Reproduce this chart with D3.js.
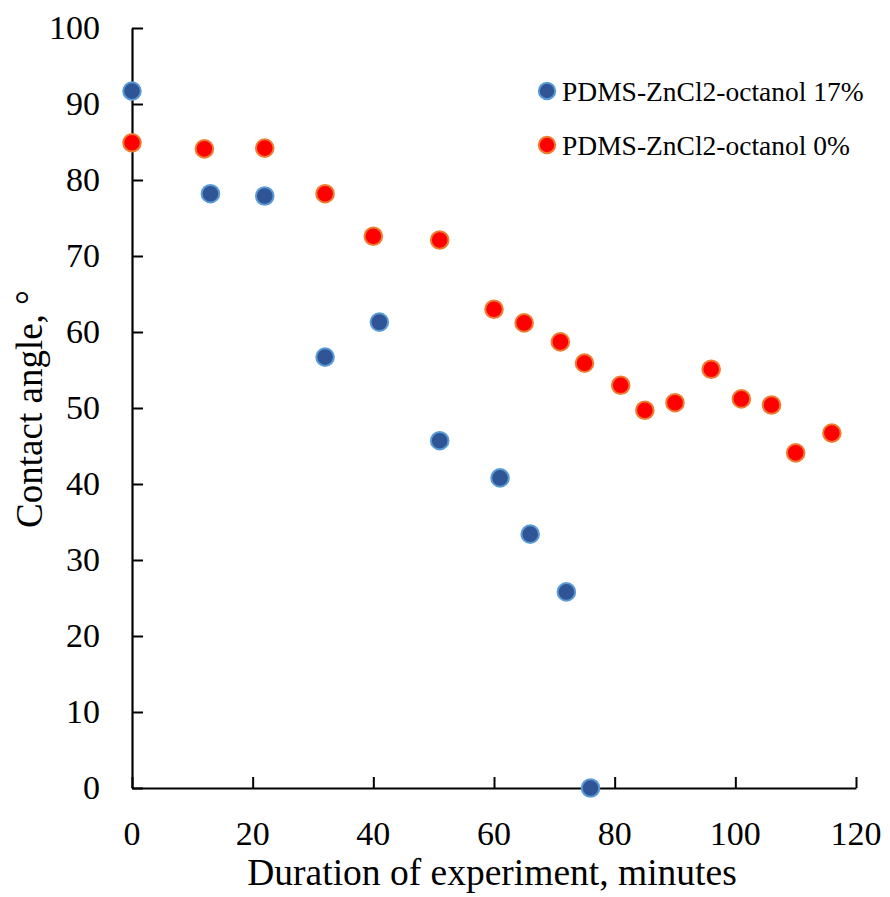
<!DOCTYPE html>
<html>
<head>
<meta charset="utf-8">
<script src="https://cdn.jsdelivr.net/npm/d3@7"></script>
<style>
  body { margin: 0; background: #fff; }
  text { font-family: "Liberation Serif", "Times New Roman", serif; fill: #000; }
</style>
</head>
<body>
<div id="chart"></div>
<script>
// series: PDMS-ZnCl2-octanol 17%
const minutes17 = [0, 13, 22, 32, 41, 51, 61, 66, 72, 76];
const angle17 = [91.7, 78.2, 77.9, 56.7, 61.3, 45.7, 40.8, 33.4, 25.8, 0];

// series: PDMS-ZnCl2-octanol 0%
const minutes0 = [0, 12, 22, 32, 40, 51, 60, 65, 71, 75, 81, 85, 90, 96, 101, 106, 110, 116];
const angle0 = [84.9, 84.1, 84.2, 78.2, 72.6, 72.1, 63.0, 61.2, 58.7, 55.9, 53.0, 49.7, 50.7, 55.1, 51.2, 50.4, 44.1, 46.7];

const xTicks = [0, 20, 40, 60, 80, 100, 120];
const yTicks = [0, 10, 20, 30, 40, 50, 60, 70, 80, 90, 100];

const seriesNames = ["PDMS-ZnCl2-octanol 17%", "PDMS-ZnCl2-octanol 0%"];

const width = 890, height = 897;
const plotLeft = 132, plotRight = 856, plotTop = 28, plotBottom = 788;

const svg = d3.select("#chart").append("svg")
  .attr("width", width)
  .attr("height", height);

const x = d3.scaleLinear().domain([0, 120]).range([plotLeft, plotRight]);
const y = d3.scaleLinear().domain([0, 100]).range([plotBottom, plotTop]);

// axes with ticks pointing inward
const xAxis = svg.append("g")
  .attr("transform", "translate(0," + plotBottom + ")")
  .call(d3.axisTop(x).tickValues(xTicks).tickSize(11).tickSizeOuter(0).tickFormat(""));
const yAxis = svg.append("g")
  .attr("transform", "translate(" + plotLeft + ",0)")
  .call(d3.axisRight(y).tickValues(yTicks).tickSize(11).tickSizeOuter(0).tickFormat(""));

[xAxis, yAxis].forEach(g => {
  g.select(".domain").attr("stroke", "#000").attr("stroke-width", 2.2);
  g.selectAll(".tick line").attr("stroke", "#000").attr("stroke-width", 2);
});

// tick labels
svg.append("g").selectAll("text")
  .data(xTicks)
  .join("text")
  .attr("x", d => x(d))
  .attr("y", 845)
  .attr("text-anchor", "middle")
  .attr("font-size", 34)
  .text(d => d);

svg.append("g").selectAll("text")
  .data(yTicks)
  .join("text")
  .attr("x", 100)
  .attr("y", d => y(d) + 11)
  .attr("text-anchor", "end")
  .attr("font-size", 34)
  .text(d => d);

// axis titles
svg.append("text")
  .attr("x", 492)
  .attr("y", 885)
  .attr("text-anchor", "middle")
  .attr("font-size", 37.5)
  .text("Duration of experiment, minutes");

svg.append("text")
  .attr("transform", "translate(42,409) rotate(-90)")
  .attr("text-anchor", "middle")
  .attr("font-size", 37)
  .text("Contact angle, \u00b0");

// points
const styles = [
  { fill: "#2F5597", stroke: "#5B9BD5" },
  { fill: "#FF0000", stroke: "#ED7D31" }
];

function drawSeries(xs, ys, st) {
  svg.append("g").selectAll("circle")
    .data(xs.map((d, i) => [d, ys[i]]))
    .join("circle")
    .attr("cx", d => x(d[0]))
    .attr("cy", d => y(d[1]))
    .attr("r", 8.8)
    .attr("fill", st.fill)
    .attr("stroke", st.stroke)
    .attr("stroke-width", 2);
}

drawSeries(minutes0, angle0, styles[1]);
drawSeries(minutes17, angle17, styles[0]);

// legend
const legend = svg.append("g");
seriesNames.forEach((name, i) => {
  const ly = 91 + i * 54;
  legend.append("circle")
    .attr("cx", 547).attr("cy", ly).attr("r", 8.2)
    .attr("fill", styles[i].fill)
    .attr("stroke", styles[i].stroke)
    .attr("stroke-width", 2);
  legend.append("text")
    .attr("x", 562).attr("y", ly + 10)
    .attr("font-size", 27.5)
    .text(name);
});
</script>
</body>
</html>
